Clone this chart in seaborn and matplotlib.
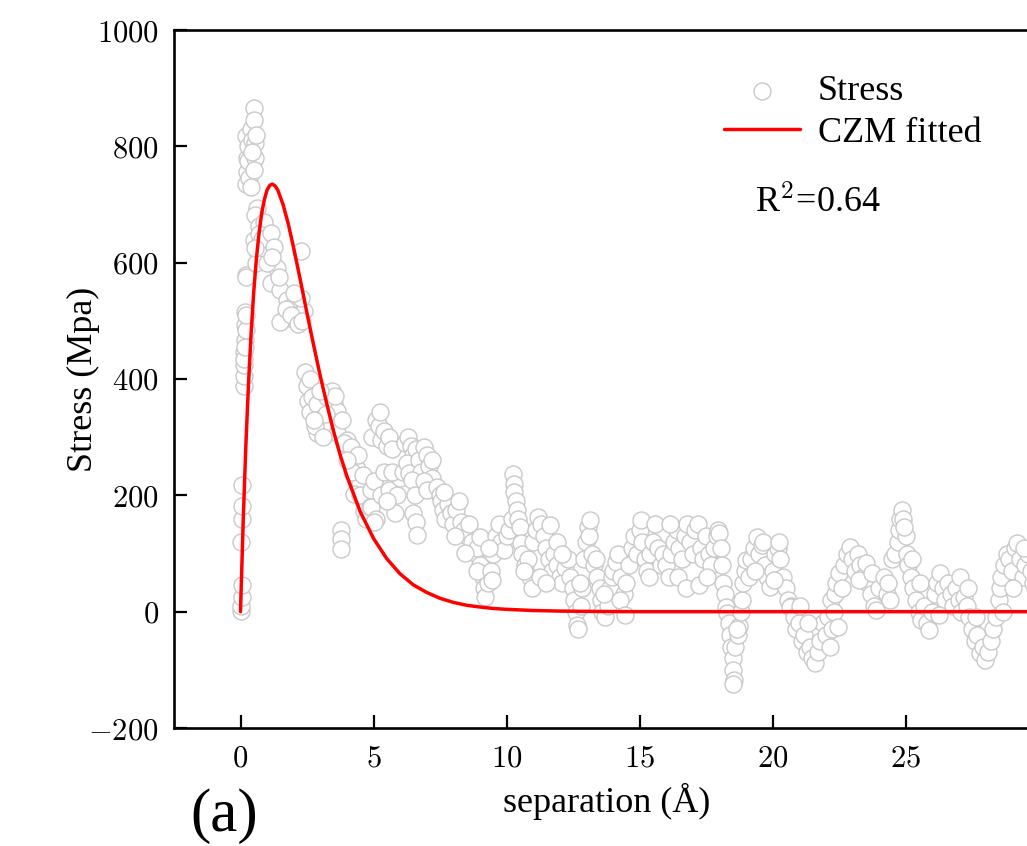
import matplotlib
matplotlib.use("Agg")
import matplotlib.pyplot as plt
import seaborn as sns
import pandas as pd
from matplotlib.ticker import FuncFormatter, FixedLocator

# ---------------- data ----------------
stress_pts = [
    # x 0 - 0.3
    (0.02, 2), (0.03, 10), (0.04, 25), (0.05, 46), (0.03, 120), (0.05, 160), (0.06, 182), (0.05, 218),
    (0.12, 388), (0.13, 406), (0.14, 424), (0.15, 446), (0.16, 467), (0.17, 492), (0.18, 516), (0.2, 578),
    (0.22, 575), (0.15, 435), (0.17, 455), (0.19, 485), (0.2, 510),
    # x 0.2 - 0.75 (top column)
    (0.22, 736), (0.25, 756), (0.24, 780), (0.19, 818), (0.28, 800), (0.3, 775), (0.33, 745), (0.4, 830),
    (0.45, 811), (0.5, 866), (0.5, 845), (0.55, 805), (0.56, 780), (0.6, 820), (0.5, 760), (0.42, 790), (0.38, 730),
    # x 0.55 - 1.0
    (0.63, 694), (0.56, 682), (0.69, 663), (0.5, 639), (0.63, 620), (0.75, 615), (0.88, 646), (0.88, 670),
    (0.7, 650), (0.8, 640), (0.6, 600), (0.55, 625),
    # x 1.0 - 2.4
    (1.13, 651), (1.25, 627), (1.38, 590), (1.25, 565), (1.13, 565), (1.5, 553), (1.75, 535), (2.0, 529),
    (1.63, 504), (2.13, 510), (2.38, 517), (2.26, 540), (2.0, 547), (2.26, 620), (1.5, 498), (1.0, 600),
    (1.2, 610), (1.45, 575), (1.7, 520), (1.9, 510), (2.15, 495), (2.3, 500),
    # x 2.4 - 4.0
    (2.42, 412), (2.5, 388), (2.55, 363), (2.63, 344), (2.7, 369), (2.88, 357), (3.0, 332), (3.26, 369),
    (3.51, 357), (3.63, 345), (3.38, 320), (3.63, 307), (4.01, 295), (2.88, 307), (2.8, 320), (3.1, 300),
    (3.2, 340), (3.45, 380), (3.55, 370), (3.8, 330), (3.9, 290), (2.6, 400), (3.0, 380), (2.75, 330),
    (3.76, 140), (3.76, 125), (3.76, 108),
    # x 4.0 - 5.0
    (4.14, 283), (4.26, 259), (4.39, 246), (4.51, 221), (4.26, 203), (4.76, 191), (4.64, 173), (4.2, 240),
    (4.5, 200), (4.7, 160), (4.9, 210), (4.4, 270), (4.0, 260), (4.6, 235), (4.85, 180), (5.0, 225),
    # x 5.0 - 6.0
    (4.95, 300), (5.1, 330), (5.2, 320), (5.3, 295), (5.25, 343), (5.4, 310), (5.5, 285), (5.6, 300),
    (5.7, 280), (4.9, 180), (5.1, 160), (5.3, 200), (5.0, 155), (5.4, 240), (5.6, 210), (5.8, 170),
    (5.9, 200), (6.0, 230), (5.7, 240), (5.5, 190),
    # x 6.0 - 7.5
    (6.1, 240), (6.2, 290), (6.3, 300), (6.4, 285), (6.5, 270), (6.25, 255), (6.35, 238), (6.6, 280),
    (6.7, 260), (6.8, 240), (6.9, 283), (7.0, 270), (7.1, 250), (7.2, 230), (7.3, 209), (6.45, 226),
    (6.55, 200), (6.5, 170), (6.6, 155), (6.65, 132), (6.9, 225), (7.0, 210), (7.2, 260), (7.4, 215), (7.5, 200),
    # x 7.5 - 9.3
    (7.55, 190), (7.6, 175), (7.7, 160), (7.8, 185), (7.9, 170), (8.0, 150), (8.1, 175), (8.2, 190),
    (8.3, 155), (8.4, 140), (8.5, 130), (8.6, 150), (8.7, 120), (8.8, 101), (8.9, 110), (9.0, 80),
    (9.1, 60), (9.15, 40), (9.2, 25), (9.3, 50), (7.65, 205), (8.05, 130), (8.45, 101), (8.9, 70), (9.0, 128),
    # x 9.3 - 11.0
    (9.4, 70), (9.5, 100), (9.6, 130), (9.7, 150), (9.8, 120), (9.9, 106), (10.0, 130), (10.1, 140),
    (10.2, 160), (10.25, 236), (10.3, 220), (10.3, 205), (10.35, 190), (10.4, 175), (10.45, 160), (10.5, 145),
    (10.55, 118), (10.6, 100), (10.7, 80), (10.8, 90), (10.9, 60), (10.95, 40), (9.35, 110), (9.45, 55), (10.65, 70),
    # x 11.0 - 12.5
    (11.0, 120), (11.1, 140), (11.2, 163), (11.3, 150), (11.4, 130), (11.5, 110), (11.6, 90), (11.7, 70),
    (11.8, 100), (11.9, 80), (12.0, 60), (12.1, 50), (12.2, 75), (12.3, 90), (11.25, 60), (11.5, 50),
    (11.65, 149), (12.4, 60), (11.9, 120), (12.1, 100),
    # x 12.5 - 14.0
    (12.5, 40), (12.55, 20), (12.6, 0), (12.65, -23), (12.7, -30), (12.8, 10), (12.85, 40), (12.9, 90),
    (13.0, 120), (13.05, 146), (13.1, 130), (13.2, 100), (13.3, 80), (13.4, 60), (13.5, 40), (13.55, 20),
    (13.6, 0), (13.7, -9), (13.8, 10), (13.9, 40), (13.95, 60), (12.75, 50), (13.15, 157), (13.35, 90), (13.65, 30),
    # x 14.0 - 15.9
    (14.0, 70), (14.1, 85), (14.2, 100), (14.3, 60), (14.4, 30), (14.5, 50), (14.6, 80), (14.7, 110),
    (14.8, 130), (14.9, 100), (15.0, 140), (15.05, 157), (15.1, 120), (15.2, 90), (15.3, 70), (15.4, 100),
    (15.5, 120), (15.6, 150), (15.7, 110), (15.8, 80), (14.25, 20), (14.45, -5), (15.35, 60), (15.9, 100),
    # x 16.0 - 18.0
    (16.0, 80), (16.1, 60), (16.2, 100), (16.3, 120), (16.4, 140), (16.5, 110), (16.6, 90), (16.7, 130),
    (16.8, 150), (16.9, 120), (17.0, 100), (17.1, 140), (17.2, 150), (17.3, 110), (17.4, 90), (17.5, 130),
    (17.6, 100), (17.7, 80), (17.8, 110), (17.9, 130), (16.45, 60), (16.75, 40), (17.25, 45), (17.55, 60),
    (16.15, 150), (17.95, 140),
    # x 18.0 - 19.0
    (18.0, 135), (18.05, 110), (18.1, 80), (18.15, 50), (18.2, 30), (18.25, 8), (18.3, -2), (18.35, -20),
    (18.4, -40), (18.45, -60), (18.5, -80), (18.5, -100), (18.55, -118), (18.5, -125), (18.6, -60), (18.7, -40),
    (18.75, -25), (18.8, 0), (18.85, 20), (18.9, 50), (18.95, 70), (19.0, 88), (18.65, -30),
    # x 19.0 - 20.7
    (19.1, 60), (19.2, 90), (19.3, 110), (19.4, 128), (19.5, 100), (19.6, 115), (19.7, 80), (19.8, 60),
    (19.9, 42), (20.0, 70), (20.1, 100), (20.2, 110), (20.3, 90), (20.4, 60), (20.5, 40), (20.6, 20),
    (20.7, 10), (19.35, 70), (19.65, 120), (20.25, 120), (20.05, 55),
    # x 20.6 - 22.3
    (20.65, 8), (20.8, -10), (20.9, -30), (21.0, -20), (21.1, -50), (21.2, -40), (21.3, -70), (21.4, -60),
    (21.5, -80), (21.6, -88), (21.7, -70), (21.8, -50), (21.9, -20), (22.0, -40), (22.1, -10), (22.2, 20),
    (22.15, -60), (22.25, -30), (21.05, 10), (21.35, -20),
    # x 22.3 - 24.2
    (22.3, 0), (22.35, 30), (22.4, 50), (22.5, 66), (22.6, 40), (22.7, 80), (22.8, 100), (22.9, 111),
    (23.0, 90), (23.1, 70), (23.2, 100), (23.3, 80), (23.4, 60), (23.5, 83), (23.6, 50), (23.7, 30),
    (23.8, 10), (23.9, 3), (24.0, 40), (22.45, -26), (23.25, 54), (23.75, 66),
    # x 24.2 - 26.0
    (24.2, 60), (24.3, 30), (24.4, 20), (24.5, 90), (24.6, 100), (24.7, 120), (24.75, 140), (24.8, 160),
    (24.85, 175), (24.9, 160), (25.0, 130), (25.05, 100), (25.1, 80), (25.2, 60), (25.3, 40), (25.4, 20),
    (25.5, 0), (25.6, -14), (25.7, 10), (25.8, -20), (25.9, -31), (26.0, 0), (24.35, 50), (24.95, 145),
    (25.25, 90), (25.55, 50),
    # x 26.0 - 28.2
    (26.1, 30), (26.2, 50), (26.3, 66), (26.4, 40), (26.5, 20), (26.6, 50), (26.7, 30), (26.8, 10),
    (26.9, 40), (27.0, 20), (27.1, 0), (27.2, 25), (27.3, 10), (27.4, -10), (27.5, -30), (27.6, -50),
    (27.7, -40), (27.8, -71), (27.9, -60), (28.0, -83), (28.1, -70), (28.2, -50), (26.25, -5), (27.05, 60),
    (27.35, 40), (27.65, -10),
    # x 28.2 - 29.8
    (28.3, -30), (28.4, -10), (28.5, 20), (28.55, 40), (28.6, 60), (28.7, 80), (28.8, 100), (28.9, 90),
    (29.0, 70), (29.1, 110), (29.2, 118), (29.3, 90), (29.4, 60), (29.5, 80), (29.6, 100), (29.7, 70),
    (29.8, 50), (28.65, 0), (29.05, 40), (29.45, 110),
]
stress_x = [p[0] for p in stress_pts]
stress_y = [p[1] for p in stress_pts]

# CZM fitted curve
czm_x = [0.0, 0.1, 0.2, 0.3, 0.4, 0.5, 0.6, 0.7, 0.8, 0.9, 1.0, 1.1, 1.2, 1.3, 1.4, 1.6, 1.8, 2.0,
         2.25, 2.5, 2.75, 3.0, 3.25, 3.5, 3.75, 4.0, 4.5, 5.0, 5.5, 6.0, 6.5, 7.0, 7.5, 8.0, 8.5,
         9.0, 9.5, 10.0, 11.0, 12.0, 13.5, 15.0, 20.0, 25.0, 30.0, 33.0]
czm_y = [0, 154, 284, 391, 480, 551, 608, 652, 686, 709, 725, 733, 735, 732, 725, 700, 666, 625,
         570, 513, 458, 405, 356, 310, 269, 233, 172, 126, 91, 65, 46, 33, 23, 16, 11,
         8, 5.5, 4, 2, 1, 0.3, 0, 0, 0, 0, 0]

x_ticks = [0, 5, 10, 15, 20, 25]
y_ticks = [-200, 0, 200, 400, 600, 800, 1000]

df_s = pd.DataFrame({"x": stress_x, "y": stress_y})
df_c = pd.DataFrame({"x": czm_x, "y": czm_y})

# ---------------- style ----------------
sns.set_style("ticks")
plt.rcParams["font.family"] = ["Liberation Serif", "DejaVu Serif"]
plt.rcParams["mathtext.fontset"] = "cm"
for k in ["text.color", "axes.labelcolor", "xtick.color", "ytick.color", "axes.edgecolor"]:
    plt.rcParams[k] = "black"

W, H = 1027, 846
fig = plt.figure(figsize=(W / 100, H / 100), dpi=100)
ax_left, ax_bottom, ax_top = 174, 728, 30
xmin, xmax = -2.5, 32.0
px_per_x = 26.6
ax_w = (xmax - xmin) * px_per_x
ax = fig.add_axes([ax_left / W, (H - ax_bottom) / H, ax_w / W, (ax_bottom - ax_top) / H])

sns.scatterplot(data=df_s, x="x", y="y", ax=ax, marker="o", s=150,
                facecolor="white", edgecolor="#c9c9c9", linewidth=1.0,
                label="Stress", zorder=2)
sns.lineplot(data=df_c, x="x", y="y", ax=ax, color="#ff0000", linewidth=2.5,
             estimator=None, sort=False, label="CZM fitted", zorder=3)

ax.set_xlim(xmin, xmax)
ax.set_ylim(-200, 1000)
ax.xaxis.set_major_locator(FixedLocator(x_ticks))
ax.yaxis.set_major_locator(FixedLocator(y_ticks))
fmt = FuncFormatter(lambda v, p: r"$%d$" % v)
ax.xaxis.set_major_formatter(fmt)
ax.yaxis.set_major_formatter(fmt)
ax.tick_params(direction="in", length=9.5, width=1.6, labelsize=22, pad=11,
               colors="black")
ax.tick_params(axis="x", pad=12)
for sp in ax.spines.values():
    sp.set_linewidth(1.9)
    sp.set_color("black")

ax.set_xlabel("separation (Å)", fontsize=26, color="black")
ax.set_ylabel("Stress (Mpa)", fontsize=26, color="black")
ax.xaxis.set_label_coords((607 - ax_left) / ax_w, -0.078)
ax.yaxis.set_label_coords((100 - ax_left) / ax_w, 0.5)

leg = ax.legend(loc="upper left", bbox_to_anchor=(724 / W, 1 - 75 / H),
                bbox_transform=fig.transFigure, frameon=False, fontsize=26,
                handlelength=2.1, handletextpad=0.5, labelspacing=0.22,
                borderpad=0, borderaxespad=0)
for t in leg.get_texts():
    t.set_color("black")

fig.text(755 / W, 1 - 213 / H, r"R$^{2}$=0.64", fontsize=26, va="baseline", ha="left",
         color="black")
fig.text(224 / W, 1 - 816 / H, "(a)", fontsize=44, va="center", ha="center", color="black")

fig.savefig("out.png", dpi=100)
